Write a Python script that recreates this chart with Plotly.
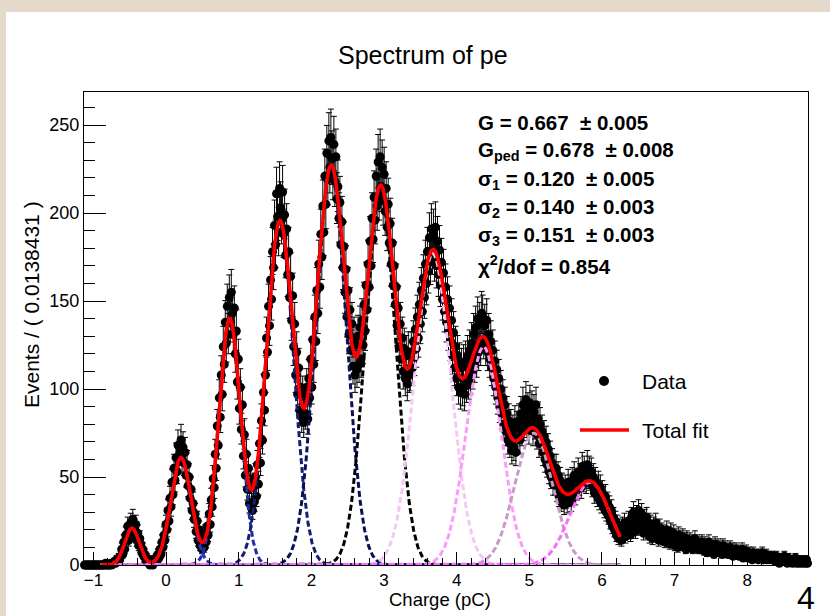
import numpy as np
import plotly.graph_objects as go

# ---- histogram of the charge spectrum (720 bins) ----
x_min = -1.13
bin_width = 0.0138431
counts = [
    0, 0, 0, 0, 0, 0, 0, 0, 0, 0, 0, 0, 0, 0, 0, 0, 0, 0, 0, 0, 0, 1, 0, 0, 0, 0, 1, 0, 1, 1, 2, 1, 3, 2, 4, 3,
    5, 9, 6, 13, 9, 17, 15, 22, 14, 18, 24, 19, 26, 17, 21, 23, 14, 18, 11, 15, 12, 7, 9, 5, 6, 2, 4, 3, 1, 0, 2, 1, 0, 3, 2, 4,
    2, 6, 4, 9, 6, 13, 10, 17, 14, 23, 20, 31, 25, 38, 33, 47, 40, 55, 48, 61, 53, 68, 59, 64, 71, 60, 67, 58, 64, 51, 57, 45, 50, 38, 43, 31,
    35, 26, 29, 19, 25, 14, 20, 11, 17, 9, 16, 10, 18, 13, 22, 17, 29, 23, 37, 33, 49, 44, 63, 55, 79, 68, 95, 84, 108, 97, 124, 114, 138, 126, 147, 131,
    152, 138, 155, 143, 131, 146, 120, 133, 104, 117, 89, 101, 77, 91, 62, 74, 51, 63, 43, 55, 35, 47, 44, 31, 45, 36, 50, 39, 57, 46, 69, 58, 82, 71, 98, 88,
    108, 129, 121, 147, 136, 162, 151, 178, 169, 193, 182, 211, 198, 189, 214, 203, 196, 212, 188, 199, 176, 191, 165, 178, 152, 164, 139, 153, 124, 137, 108, 121, 97, 112, 88, 101,
    84, 97, 81, 92, 86, 101, 83, 106, 95, 117, 101, 128, 114, 141, 127, 156, 143, 171, 158, 188, 175, 204, 189, 221, 205, 234, 219, 241, 226, 243, 231, 222, 239, 218, 232, 208,
    215, 197, 206, 182, 195, 169, 181, 155, 168, 141, 156, 131, 145, 122, 137, 113, 129, 108, 125, 111, 130, 114, 135, 117, 139, 125, 148, 133, 159, 145, 171, 158, 184, 170, 197, 185,
    209, 196, 221, 204, 229, 210, 232, 215, 226, 207, 222, 201, 214, 192, 205, 183, 194, 171, 183, 159, 170, 148, 158, 136, 146, 124, 137, 117, 129, 110, 123, 106, 119, 103, 121, 108,
    109, 121, 112, 127, 118, 134, 123, 141, 129, 148, 137, 156, 144, 163, 152, 171, 160, 178, 167, 186, 172, 191, 178, 188, 174, 192, 170, 184, 165, 179, 159, 172, 151, 166, 144, 158,
    138, 151, 133, 146, 127, 139, 119, 132, 112, 124, 106, 119, 101, 115, 98, 112, 100, 114, 97, 116, 102, 119, 104, 122, 107, 126, 110, 131, 114, 135, 117, 140, 121, 137, 124, 143,
    141, 128, 136, 124, 139, 121, 131, 117, 127, 112, 122, 106, 116, 101, 111, 95, 106, 90, 100, 86, 95, 80, 91, 76, 86, 71, 82, 69, 79, 65, 76, 67, 81, 64, 78, 72,
    82, 71, 86, 76, 91, 79, 84, 94, 81, 88, 77, 92, 83, 89, 76, 87, 80, 91, 74, 83, 69, 80, 71, 76, 64, 73, 60, 70, 57, 66, 53, 62, 50, 58, 46, 55,
    46, 55, 42, 51, 39, 48, 36, 45, 41, 34, 44, 38, 35, 47, 39, 44, 36, 48, 42, 51, 40, 47, 43, 53, 46, 50, 44, 56, 48, 54, 51, 47, 57, 50, 54, 49,
    53, 45, 50, 41, 48, 43, 39, 46, 37, 44, 35, 41, 38, 32, 39, 30, 35, 28, 33, 25, 31, 22, 27, 20, 25, 17, 23, 15, 21, 19, 14, 22, 18, 24, 16, 21,
    19, 25, 21, 17, 27, 22, 30, 24, 19, 28, 23, 31, 26, 21, 29, 24, 18, 26, 22, 27, 19, 24, 16, 23, 20, 15, 22, 18, 24, 17, 20, 14, 21, 17, 19, 15,
    18, 13, 16, 20, 14, 17, 12, 19, 15, 13, 18, 11, 16, 14, 10, 17, 13, 15, 11, 16, 12, 14, 9, 15, 12, 10, 14, 11, 13, 9, 12, 15, 10, 13, 11, 9,
    12, 9, 13, 10, 8, 12, 11, 7, 10, 13, 9, 11, 8, 10, 6, 12, 9, 8, 11, 7, 10, 9, 6, 11, 8, 10, 7, 9, 6, 8, 10, 7, 9, 5, 8, 7,
    9, 6, 8, 5, 7, 6, 9, 4, 7, 5, 8, 6, 4, 7, 5, 6, 3, 7, 5, 4, 6, 5, 3, 6, 4, 5, 7, 3, 5, 4, 6, 3, 4, 5, 3, 4,
    5, 3, 4, 2, 5, 3, 4, 1, 3, 4, 2, 3, 5, 2, 3, 1, 4, 2, 3, 2, 1, 3, 2, 4, 1, 2, 3, 1, 2, 3, 1, 2, 2, 1, 3, 1,
]

# ---- fitted model: pedestal + photoelectron Gaussians ----
comp_mean = [-0.47, 0.205, 0.875, 1.565, 2.27, 2.95, 3.67, 4.37, 5.06, 5.84]
comp_sigma = [0.10, 0.14, 0.15, 0.19, 0.21, 0.21, 0.25, 0.24, 0.26, 0.28]
comp_amp = [21, 61, 140, 195, 226, 212, 177, 124, 75, 47]
comp_color = ["#2a3ccc", "#2436c2", "#1e2ea8", "#141e72", "#0c1056", "#000000",
              "#f6c6f6", "#fb9cfb", "#c99ac9", "#ff6aff"]
background_level = 0.0
fit_range = [-0.9, 6.25]

# ---- fit results ----
stats_lines = [
    "<b>G = 0.667  ± 0.005</b>",
    "<b>G<sub>ped</sub> = 0.678  ± 0.008</b>",
    "<b>σ<sub>1</sub> = 0.120  ± 0.005</b>",
    "<b>σ<sub>2</sub> = 0.140  ± 0.003</b>",
    "<b>σ<sub>3</sub> = 0.151  ± 0.003</b>",
    "<b>χ<sup>2</sup>/dof = 0.854</b>",
]

FONT = "Liberation Sans, Arial, Helvetica, sans-serif"

n_bins = len(counts)
x_max = x_min + n_bins * bin_width
centers = x_min + (np.arange(n_bins) + 0.5) * bin_width
n = np.array(counts, dtype=float)
err_hi = np.sqrt(n + 0.25) + 0.5
err_lo = np.sqrt(n + 0.25) - 0.5

xf = np.linspace(fit_range[0], fit_range[1], 1400)


def gauss(x, m, s, a):
    return a * np.exp(-0.5 * ((x - m) / s) ** 2)


components = [gauss(xf, m, s, a) for m, s, a in zip(comp_mean, comp_sigma, comp_amp)]
total = np.sum(components, axis=0) + background_level

fig = go.Figure()

fig.add_trace(go.Scatter(
    x=centers, y=n, mode="markers",
    marker=dict(color="black", size=9, line=dict(width=0)),
    error_y=dict(type="data", symmetric=False, array=err_hi, arrayminus=err_lo,
                 color="black", thickness=1, width=3),
    cliponaxis=False, showlegend=False,
))

fig.add_trace(go.Scatter(
    x=xf, y=np.full_like(xf, background_level), mode="lines",
    line=dict(color="#b24cb2", width=3), showlegend=False, cliponaxis=False,
))

for comp, col in zip(components, comp_color):
    fig.add_trace(go.Scatter(
        x=xf, y=comp, mode="lines",
        line=dict(color=col, width=3, dash="6px,3px"), showlegend=False,
    ))

fig.add_trace(go.Scatter(
    x=xf, y=total, mode="lines",
    line=dict(color="#ff0000", width=3.5), showlegend=False,
))

# ---- page geometry (pixels) ----
W, H = 830, 616
L, R, T, B = 84, 808, 92, 565


def px(xp):
    return (xp - L) / (R - L)


def py(yp):
    return (B - yp) / (B - T)


annotations = [
    dict(text="Spectrum of pe", x=px(423), y=py(55), font=dict(size=25)),
    dict(text="Charge (pC)", x=px(440), y=py(599), font=dict(size=18.5)),
    dict(text="Events / ( 0.0138431 )", x=px(31), y=py(305), textangle=-90, font=dict(size=21)),
    dict(text="Data", x=px(640), y=py(381), xanchor="left", font=dict(size=21)),
    dict(text="Total fit", x=px(640), y=py(430), xanchor="left", font=dict(size=21)),
    dict(text="4", x=px(806), y=py(598), font=dict(size=32)),
]
for k, line in enumerate(stats_lines):
    annotations.append(dict(text=line, x=px(476), y=py(123 + 28.3 * k), xanchor="left",
                            font=dict(size=20.5)))
for a in annotations:
    a.setdefault("xanchor", "center")
    a.update(xref="paper", yref="paper", yanchor="middle", showarrow=False)
    a["font"].update(family=FONT, color="black")

shapes = [
    # white canvas
    dict(type="rect", xref="paper", yref="paper", x0=px(6), x1=px(832), y0=py(12), y1=py(618),
         fillcolor="white", line=dict(width=0), layer="below"),
    # legend keys
    dict(type="circle", xref="paper", yref="paper", x0=px(599), x1=px(609),
         y0=py(376), y1=py(386), fillcolor="black", line=dict(width=0)),
    dict(type="line", xref="paper", yref="paper", x0=px(580), x1=px(629),
         y0=py(430), y1=py(430), line=dict(color="#ff0000", width=3.5)),
]

fig.update_layout(
    width=W, height=H,
    margin=dict(l=L, r=W - R, t=T, b=H - B),
    paper_bgcolor="#e4d9cb", plot_bgcolor="white",
    font=dict(family=FONT, color="black"),
    annotations=annotations, shapes=shapes,
    showlegend=False,
)
fig.update_xaxes(
    range=[x_min, x_max], showgrid=False, zeroline=False,
    showline=True, linecolor="black", linewidth=1, mirror=True,
    ticks="inside", ticklen=13, tickwidth=1, tickcolor="black",
    tick0=0, dtick=1, tickfont=dict(size=17, family=FONT),
    minor=dict(ticks="inside", ticklen=7, tickwidth=1, tickcolor="black", dtick=0.2, tick0=0, showgrid=False),
)
fig.update_yaxes(
    range=[0, 268.8], showgrid=False, zeroline=False,
    showline=True, linecolor="black", linewidth=1, mirror=True,
    ticks="inside", ticklen=22, tickwidth=1, tickcolor="black",
    tick0=0, dtick=50, tickfont=dict(size=18, family=FONT),
    minor=dict(ticks="inside", ticklen=11, tickwidth=1, tickcolor="black", dtick=10, tick0=0, showgrid=False),
)

fig.write_html("out.html")
